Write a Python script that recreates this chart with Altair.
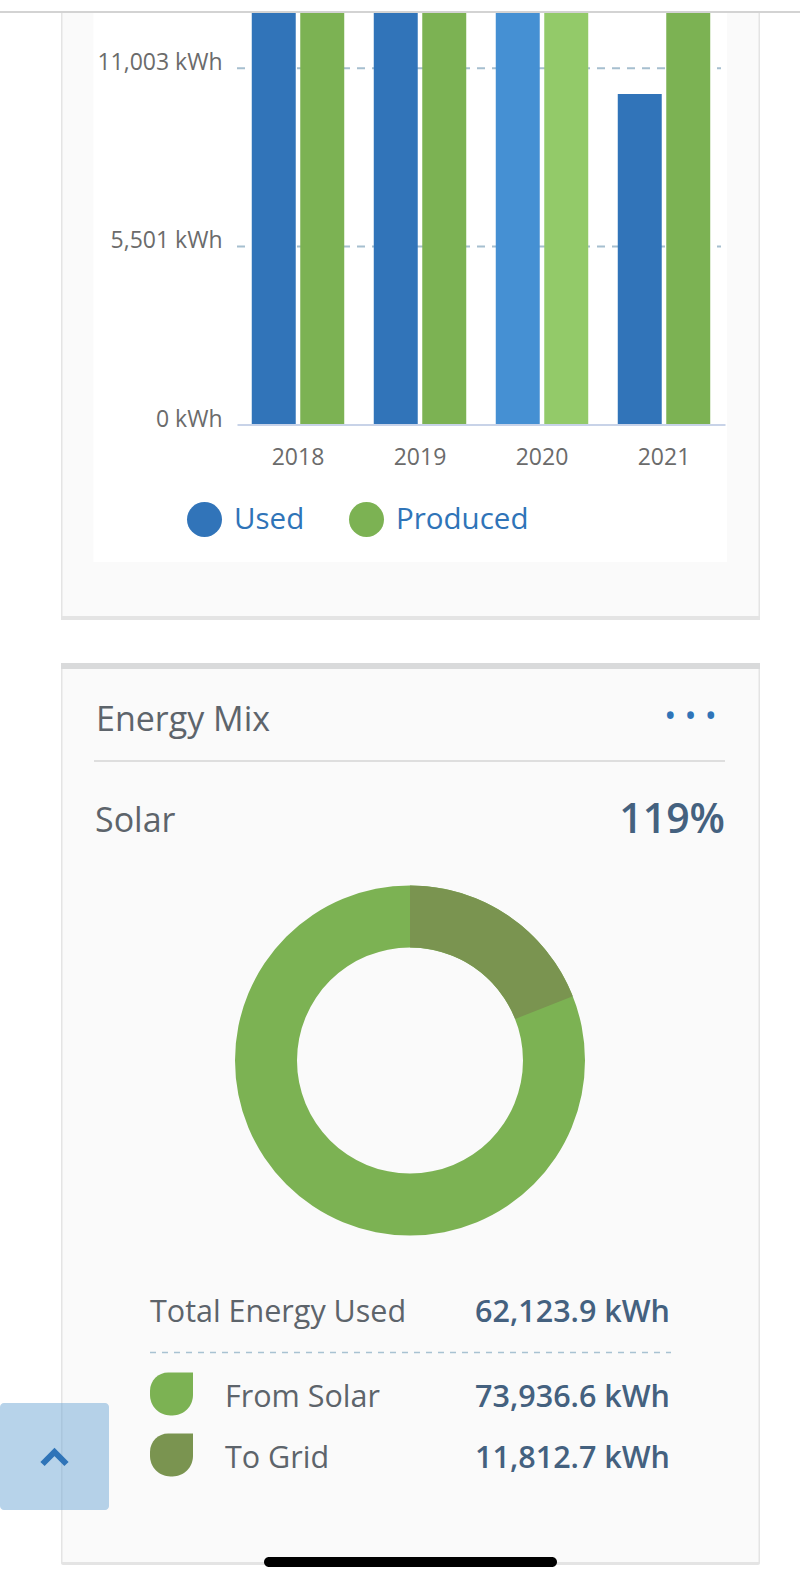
import altair as alt
import pandas as pd

FONT = "Open Sans"

# ---- yearly energy (kWh) ----
years = ["2018", "2019", "2020", "2021"]
used_kwh = [17520, 17290, 17104, 10210]
produced_kwh = [19100, 18600, 18300, 17937]
series_names = ["Used", "Produced"]
selected_year = "2020"
axis_ticks = [0, 5501, 11003]

# ---- energy mix ----
mix_title = "Energy Mix"
mix_source = "Solar"
total_used_label = "Total Energy Used"
total_used_kwh = 62123.9
mix_labels = ["From Solar", "To Grid"]
mix_kwh = [73936.6, 11812.7]

# ---- palette ----
BLUE, GREEN = "#3174b9", "#7cb253"
BLUE_SEL, GREEN_SEL = "#4590d3", "#93ca69"
GRID_GREEN = "#7a9450"
TEXT_GRAY = "#5d646b"
TICK_GRAY = "#6b6b6b"
VALUE_BLUE = "#44617f"
LINK_BLUE = "#2f74b8"

W, H = 800, 1585
one = alt.Data(values=[{}])


def box(x, x2, y, y2, fill, **kw):
    return alt.Chart(one).mark_rect(fill=fill, **kw).encode(
        x=alt.value(x), x2=alt.value(x2), y=alt.value(y), y2=alt.value(y2))


def hline(x, x2, y, color, width=2, dash=None):
    kw = dict(color=color, strokeWidth=width)
    if dash:
        kw["strokeDash"] = dash
    return alt.Chart(one).mark_rule(**kw).encode(
        x=alt.value(x), x2=alt.value(x2), y=alt.value(y))


def label(text, x, y, size, color, align="left", weight="normal"):
    return alt.Chart(alt.Data(values=[{"t": text}])).mark_text(
        align=align, baseline="alphabetic", font=FONT, fontSize=size,
        color=color, fontWeight=weight).encode(
        x=alt.value(x), y=alt.value(y), text="t:N")


# ---------------- yearly bar chart card ----------------
bar_df = pd.DataFrame({
    "year": years * 2,
    "series": ["Used"] * len(years) + ["Produced"] * len(years),
    "kwh": used_kwh + produced_kwh,
})

y_scale = alt.Scale(domain=[0, axis_ticks[-1]], range=[424.5, 68.3], nice=False)
y_axis = alt.Axis(orient="left", offset=-236, title=None, grid=False,
                  domain=False, ticks=False, tickSize=0, values=axis_ticks,
                  labelExpr="format(datum.value, ',') + ' kWh'",
                  labelFont=FONT, labelFontSize=23, labelColor=TICK_GRAY,
                  labelPadding=14, labelOffset=-5.5, zindex=1)

grid = alt.Chart(pd.DataFrame({"kwh": axis_ticks[1:]})).mark_rule(
    color="#a6bfcf", strokeWidth=2, strokeDash=[8, 7]).encode(
    y=alt.Y("kwh:Q", scale=y_scale, axis=y_axis),
    x=alt.value(237), x2=alt.value(721))

tone_domain = series_names + [s + " (selected)" for s in series_names]
bars = alt.Chart(bar_df).transform_calculate(
    tone=f"datum.year == '{selected_year}' ? datum.series + ' (selected)' : datum.series"
).mark_bar().encode(
    x=alt.X("year:N", sort=years,
            scale=alt.Scale(range=[237, 725], paddingInner=0.242, paddingOuter=0.121),
            axis=alt.Axis(orient="bottom", offset=-1160.5, title=None, grid=False,
                          domainColor="#c8d3e8", domainWidth=2, ticks=False, tickSize=0,
                          labelFont=FONT, labelFontSize=23, labelColor=TICK_GRAY,
                          labelAngle=0, labelBaseline="middle", labelPadding=32.5,
                          zindex=1)),
    xOffset=alt.XOffset("series:N", sort=series_names,
                        scale=alt.Scale(paddingInner=0.093, paddingOuter=0)),
    y=alt.Y("kwh:Q", scale=y_scale, axis=y_axis),
    color=alt.Color("tone:N",
                    scale=alt.Scale(domain=tone_domain,
                                    range=[BLUE, GREEN, BLUE_SEL, GREEN_SEL]),
                    legend=alt.Legend(values=series_names, orient="none",
                                      legendX=187, legendY=502, direction="horizontal",
                                      title=None, symbolType="circle", symbolSize=1225,
                                      symbolStrokeWidth=0, labelFont=FONT,
                                      labelFontSize=29.5, labelColor=LINK_BLUE,
                                      labelOffset=12, columnPadding=44, padding=0,
                                      labelLimit=0)),
)

card1 = [
    box(61, 760, 12, 620, "#e4e4e4"),
    box(62.5, 758.5, 12, 616, "#fafafa"),
    box(93.4, 727, 12, 562, "#ffffff"),
]

top_bar = [
    box(0, W, 0, 11, "#ffffff"),
    hline(0, W, 12, "#d3d3d3", 2),
]

# ---------------- energy mix card ----------------
card2 = [
    box(61, 760, 663, 1565, "#e4e4e4", cornerRadius=2),
    box(62.5, 758.5, 669, 1562, "#fafafa"),
    box(61, 760, 663, 669, "#d9dadb"),
]

header = [
    label(mix_title, 96, 731, 34, TEXT_GRAY),
    label("• • •", 690.5, 727, 32, LINK_BLUE, align="center"),
    hline(94, 725, 761, "#dedede", 2),
    label(mix_source, 95, 832, 34, TEXT_GRAY),
    alt.Chart(alt.Data(values=[{"solar": mix_kwh[0], "used": total_used_kwh}]))
    .transform_calculate(pct="format(datum.solar / datum.used, '.0%')")
    .mark_text(align="right", baseline="alphabetic", font=FONT, fontSize=41,
               fontWeight=600, color=VALUE_BLUE)
    .encode(x=alt.value(725), y=alt.value(833), text="pct:N"),
]

mix_df = pd.DataFrame({"part": mix_labels, "kwh": mix_kwh})
theta_scale = alt.Scale(domain=[0, total_used_kwh], clamp=True, nice=False, zero=True)
ring_colors = {"From Solar": GREEN, "To Grid": GRID_GREEN}
donut = [
    alt.Chart(mix_df).transform_filter(alt.datum.part == part)
    .mark_arc(radius=175, radius2=113)
    .encode(theta=alt.Theta("kwh:Q", scale=theta_scale),
            color=alt.value(ring_colors[part]),
            x=alt.value(410), y=alt.value(1060.5))
    for part in mix_labels
]

summary_df = pd.DataFrame({
    "name": [total_used_label] + mix_labels,
    "kwh": [total_used_kwh] + mix_kwh,
})
row_baselines = {total_used_label: 1322, "From Solar": 1407, "To Grid": 1467.5}
row_x = {total_used_label: 150, "From Solar": 225, "To Grid": 225}

table = []
for name, base in row_baselines.items():
    row = alt.Chart(summary_df).transform_filter(alt.datum.name == name)
    table.append(row.mark_text(align="left", baseline="alphabetic", font=FONT,
                               fontSize=30.5, color=TEXT_GRAY)
                 .encode(x=alt.value(row_x[name]), y=alt.value(base), text="name:N"))
    table.append(row.transform_calculate(v="format(datum.kwh, ',.1f') + ' kWh'")
                 .mark_text(align="right", baseline="alphabetic", font=FONT,
                            fontSize=30.5, fontWeight=600, color=VALUE_BLUE)
                 .encode(x=alt.value(670), y=alt.value(base), text="v:N"))

table.append(hline(150, 671, 1352.5, "#a8c2d2", 1.6, [6, 6]))

leaf_path = ("M1,-1 L1,0.05 C1,0.575 0.575,1 0.05,1 L-0.05,1 C-0.575,1 -1,0.575 -1,0.05 "
             "L-1,-0.15 C-1,-0.62 -0.62,-1 -0.15,-1 Z")
leaf_y = {"From Solar": 1394, "To Grid": 1455}
for part in mix_labels:
    table.append(alt.Chart(mix_df).transform_filter(alt.datum.part == part)
                 .mark_point(shape=leaf_path, filled=True, size=1849, opacity=1,
                             color=ring_colors[part], strokeWidth=0)
                 .encode(x=alt.value(171.5), y=alt.value(leaf_y[part])))

# ---------------- page chrome ----------------
chrome = [
    box(0, 109, 1403, 1510, "#6fa8d6", opacity=0.5, cornerRadius=4),
    alt.Chart(one).mark_point(shape="M-1,0.5 L0,-0.5 L1,0.5", filled=False,
                              stroke=LINK_BLUE, strokeWidth=6, size=576, opacity=1,
                              strokeJoin="miter")
    .encode(x=alt.value(54.5), y=alt.value(1458)),
    box(264, 557, 1557, 1567, "#000000", cornerRadius=5),
]

chart = alt.layer(
    *card1, grid, bars, *top_bar, *card2, *header, *donut, *table, *chrome
).properties(
    width=W, height=H, padding=0, background="white",
    autosize=alt.AutoSizeParams(type="none"),
).configure_view(strokeWidth=0)

chart.save("out.html", embed_options={"renderer": "svg", "actions": False})
